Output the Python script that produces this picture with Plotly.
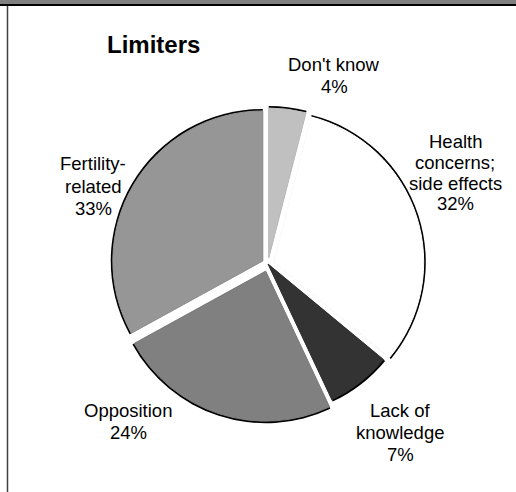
import plotly.graph_objects as go

# Reasons given as limiters (percent of responses)
categories = ["Don't know", "Health concerns; side effects", "Lack of knowledge",
              "Opposition", "Fertility-related"]
label_lines = [["Don't know"], ["Health", "concerns;", "side effects"], ["Lack of", "knowledge"],
               ["Opposition"], ["Fertility-", "related"]]
values = [4, 32, 7, 24, 33]

slice_colors = ["#c0c0c0", "#ffffff", "#333333", "#808080", "#969696"]
pulls = [0.04, 0.04, 0.0, 0.05, 0.04]

W, H = 516, 492
cx, cy = 268, 264          # pie centre in pixels (from top-left)
radius = 150               # pie radius in pixels
max_pull = max(pulls)
FONT = "Arial, Liberation Sans, sans-serif"

# label block placement: centre x and first-line centre y (pixels), line step
label_pos = [(334, 65), (455, 141), (400, 410), (128, 410), (93, 164)]
line_step = [22, 21, 22, 22, 22]


def pie_domain(r):
    half = r * (1 + max_pull)
    return dict(
        x=[(cx - half) / W, (cx + half) / W],
        y=[(H - cy - half) / H, (H - cy + half) / H],
    )


fig = go.Figure()

# black underlay, slightly larger, gives the outer arc outline
fig.add_trace(go.Pie(
    labels=categories, values=values, sort=False, direction="clockwise",
    rotation=0, pull=pulls, domain=pie_domain(radius + 2),
    marker=dict(colors=["#000000"] * len(values), line=dict(width=0)),
    textinfo="none", hoverinfo="skip", showlegend=False,
))

fig.add_trace(go.Pie(
    labels=categories, values=values, sort=False,
    direction="clockwise", rotation=0, pull=pulls, domain=pie_domain(radius),
    marker=dict(colors=slice_colors, line=dict(color=slice_colors, width=1)),
    textinfo="none", hovertemplate="%{label}: %{value}%<extra></extra>",
    showlegend=False,
))

annotations = [dict(
    text="<b>Limiters</b>", x=153 / W, y=1 - 45 / H, xref="paper", yref="paper",
    xanchor="center", yanchor="middle", showarrow=False,
    font=dict(family=FONT, size=24, color="#000000"),
)]

# slice labels: name lines followed by the value line
for lines, v, (lx, ly), step in zip(label_lines, values, label_pos, line_step):
    for i, t in enumerate(lines + [f"{v}%"]):
        annotations.append(dict(
            text=t, x=lx / W, y=1 - (ly + i * step) / H, xref="paper", yref="paper",
            xanchor="center", yanchor="middle", showarrow=False,
            font=dict(family=FONT, size=18.5, color="#000000"),
        ))

fig.update_layout(
    width=W, height=H, autosize=False,
    margin=dict(l=0, r=0, t=0, b=0, pad=0, autoexpand=False),
    paper_bgcolor="#ffffff",
    showlegend=False,
    annotations=annotations,
    shapes=[
        # grey header band with a dark rule under it
        dict(type="rect", xref="paper", yref="paper", x0=0, x1=1, y0=1 - 4 / H, y1=1,
             fillcolor="#808080", line=dict(width=0), layer="below"),
        dict(type="line", xref="paper", yref="paper", x0=0, x1=1,
             y0=1 - 5 / H, y1=1 - 5 / H, line=dict(color="#000000", width=2)),
        # left frame edge
        dict(type="line", xref="paper", yref="paper", x0=7.5 / W, x1=7.5 / W,
             y0=0, y1=1 - 6 / H, line=dict(color="#404040", width=1.5)),
    ],
)

fig.write_html("out.html", config={"responsive": False, "displayModeBar": False})
